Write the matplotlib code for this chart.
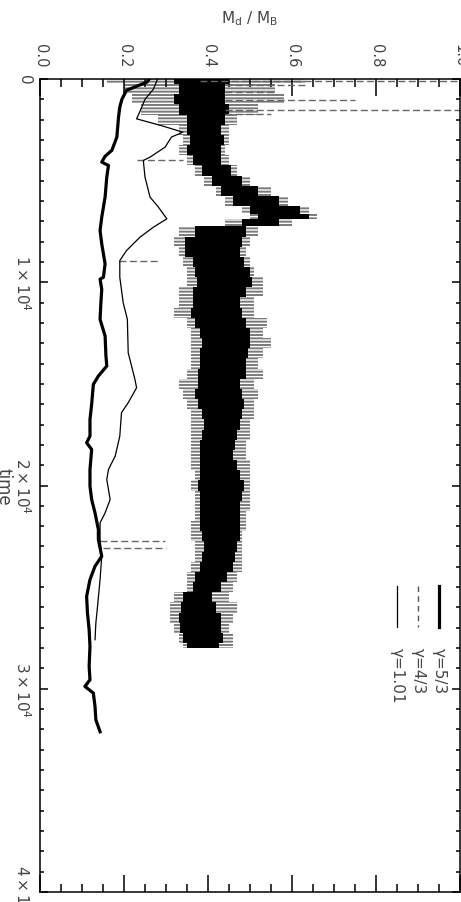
import matplotlib
matplotlib.use("Agg")
import matplotlib.pyplot as plt
from matplotlib.ticker import MultipleLocator, FixedLocator, FixedFormatter

# gamma = 5/3 (thick solid)
t_53 = [0, 150, 557, 1000, 1379, 1872, 2857, 3514, 3800, 4089, 4253, 4828, 5813, 6798, 7455,
        8111, 9097, 9754, 9852, 10345, 11000, 11823, 12644, 13629, 14122, 14614, 15025, 16000,
        16749, 17570, 17898, 18227, 19212, 20033, 20690, 21346, 22167, 22660, 23481, 23974,
        24631, 25452, 26273, 27094, 27915, 28900, 29557, 29885, 30213, 30870, 31527, 32118]
m_53 = [0.26, 0.255, 0.206, 0.195, 0.19, 0.187, 0.183, 0.171, 0.155, 0.147, 0.163, 0.159, 0.155,
        0.147, 0.143, 0.147, 0.155, 0.151, 0.143, 0.147, 0.145, 0.143, 0.155, 0.157, 0.159,
        0.139, 0.127, 0.123, 0.119, 0.119, 0.111, 0.123, 0.119, 0.119, 0.123, 0.131, 0.139,
        0.139, 0.147, 0.131, 0.119, 0.111, 0.113, 0.117, 0.119, 0.117, 0.119, 0.107, 0.127,
        0.131, 0.133, 0.143]

# gamma = 1.01 (thin solid)
t_101 = [0, 500, 1000, 1500, 1960, 2300, 2617, 2857, 3350, 3843, 4007, 4828, 5813, 6305, 6880,
         7291, 7783, 8440, 8933, 9754, 11001, 11823, 13465, 14778, 15189, 15928, 16420, 17570,
         18555, 19212, 19704, 20690, 21346, 21839, 22660, 23481, 24631, 25944, 26765, 27586]
m_101 = [0.28, 0.27, 0.25, 0.24, 0.23, 0.29, 0.34, 0.313, 0.298, 0.262, 0.246, 0.25, 0.262,
         0.282, 0.302, 0.27, 0.238, 0.206, 0.19, 0.19, 0.198, 0.208, 0.21, 0.226, 0.23, 0.21,
         0.194, 0.19, 0.179, 0.163, 0.159, 0.167, 0.155, 0.143, 0.143, 0.147, 0.143, 0.137,
         0.133, 0.131]

# gamma = 4/3 (dashed, fast oscillation -> band)
t_43 = [0, 500, 1000, 1500, 2000, 2500, 3000, 3500, 4000, 4500, 5000, 5500, 6000, 6500, 6750,
        7000, 7500, 8000, 8500, 9000, 9500, 10000, 10500, 11000, 11500, 12000, 12500, 13000,
        13500, 14000, 14500, 15000, 15500, 16000, 16500, 17000, 17500, 18000, 18500, 19000,
        19500, 20000, 20500, 21000, 21500, 22000, 22500, 23000, 23500, 24000, 24500, 25000,
        25500, 26000, 26500, 27000, 27500, 28000]
lo_43 = [0.32, 0.33, 0.32, 0.33, 0.35, 0.35, 0.357, 0.35, 0.365, 0.385, 0.41, 0.43, 0.46, 0.50,
         0.52, 0.48, 0.37, 0.345, 0.345, 0.365, 0.37, 0.373, 0.365, 0.365, 0.36, 0.37, 0.38,
         0.385, 0.38, 0.38, 0.375, 0.375, 0.37, 0.375, 0.385, 0.39, 0.385, 0.38, 0.38, 0.38,
         0.38, 0.375, 0.38, 0.38, 0.38, 0.38, 0.385, 0.39, 0.385, 0.38, 0.37, 0.365, 0.34,
         0.335, 0.33, 0.333, 0.34, 0.35]
hi_43 = [0.45, 0.44, 0.44, 0.45, 0.44, 0.43, 0.437, 0.43, 0.43, 0.455, 0.48, 0.52, 0.57, 0.62,
         0.64, 0.57, 0.49, 0.48, 0.475, 0.485, 0.50, 0.505, 0.49, 0.476, 0.48, 0.49, 0.50,
         0.50, 0.495, 0.49, 0.49, 0.475, 0.48, 0.485, 0.48, 0.475, 0.47, 0.465, 0.46, 0.47,
         0.475, 0.485, 0.48, 0.475, 0.475, 0.475, 0.475, 0.47, 0.465, 0.46, 0.445, 0.43, 0.41,
         0.42, 0.43, 0.43, 0.435, 0.425]
outlo_43 = [0.16, 0.20, 0.22, 0.24, 0.28, 0.33, 0.34, 0.33, 0.35, 0.37, 0.39, 0.42, 0.44, 0.48,
            0.50, 0.44, 0.33, 0.32, 0.33, 0.34, 0.35, 0.35, 0.33, 0.33, 0.32, 0.35, 0.36, 0.36,
            0.36, 0.36, 0.35, 0.33, 0.34, 0.35, 0.36, 0.36, 0.36, 0.36, 0.36, 0.36, 0.37, 0.36,
            0.37, 0.37, 0.37, 0.36, 0.36, 0.37, 0.37, 0.36, 0.35, 0.35, 0.32, 0.31, 0.31, 0.32,
            0.33, 0.34]
outhi_43 = [0.63, 0.56, 0.58, 0.52, 0.47, 0.45, 0.45, 0.44, 0.45, 0.47, 0.50, 0.55, 0.59, 0.64,
            0.66, 0.60, 0.52, 0.50, 0.49, 0.50, 0.51, 0.53, 0.53, 0.51, 0.51, 0.54, 0.53, 0.55,
            0.53, 0.52, 0.53, 0.51, 0.52, 0.51, 0.51, 0.50, 0.50, 0.49, 0.49, 0.50, 0.50, 0.50,
            0.50, 0.50, 0.49, 0.49, 0.48, 0.48, 0.48, 0.48, 0.47, 0.46, 0.45, 0.47, 0.46, 0.45,
            0.46, 0.46]

# isolated excursions of the gamma = 4/3 run
spike_t = [80, 310, 650, 1018, 1543, 1700, 3970, 8940, 22709, 23070]
spike_from = [0.38, 0.44, 0.44, 0.44, 0.44, 0.44, 0.23, 0.187, 0.143, 0.15]
spike_to = [1.0, 0.63, 0.56, 0.75, 1.0, 0.55, 0.34, 0.286, 0.298, 0.30]

legend_labels = ["\u03b3=5/3", "\u03b3=4/3", "\u03b3=1.01"]
time_ticks = [0, 10000, 20000, 30000, 40000]
time_labels = ["0", r"$1\times10^{4}$", r"$2\times10^{4}$", r"$3\times10^{4}$", r"$4\times10^{4}$"]

plt.rcParams["hatch.linewidth"] = 1.4

fig = plt.figure(figsize=(4.61, 9.03), dpi=100)
ax = fig.add_axes([40 / 461, 10 / 903, 420 / 461, 813 / 903])

# spiky grey fringe of the dashed run, then its black core
ax.fill_betweenx(t_43, outlo_43, lo_43, step="mid", facecolor="none", edgecolor="#7a7a7a",
                 hatch="-----", lw=0)
ax.fill_betweenx(t_43, hi_43, outhi_43, step="mid", facecolor="none", edgecolor="#7a7a7a",
                 hatch="-----", lw=0)
ax.fill_betweenx(t_43, lo_43, hi_43, step="mid", color="black", lw=0)
ax.hlines(spike_t, spike_from, spike_to, colors="#666666", linestyles=(0, (5, 2.5)), lw=1.0)
ax.plot(m_101, t_101, color="black", lw=0.9)
ax.plot(m_53, t_53, color="black", lw=2.3)

ax.set_xlim(0, 1)
ax.set_ylim(40000, 0)

txt_col = "#444444"
ax.xaxis.tick_top()
ax.xaxis.set_label_position("top")
ax.xaxis.set_major_locator(MultipleLocator(0.2))
ax.xaxis.set_minor_locator(MultipleLocator(0.05))
ax.set_xticklabels(["%.1f" % v for v in ax.get_xticks()], rotation=-90, color=txt_col, fontsize=10.5)
ax.tick_params(axis="x", which="both", direction="in", top=True, bottom=True)
ax.tick_params(axis="x", which="major", length=12, width=1.1, pad=9)
ax.tick_params(axis="x", which="minor", length=5.8, width=1.1)

ax.yaxis.set_major_locator(FixedLocator(time_ticks))
ax.yaxis.set_major_formatter(FixedFormatter(time_labels))
ax.yaxis.set_minor_locator(MultipleLocator(1000))
ax.tick_params(axis="y", which="both", direction="in", left=True, right=True)
ax.tick_params(axis="y", which="major", length=5.8, width=1.1, pad=6)
ax.tick_params(axis="y", which="minor", length=2.9, width=1.1)
for lab in ax.get_yticklabels():
    lab.set_rotation(-90)
    lab.set_va("center")
    lab.set_color(txt_col)
    lab.set_fontsize(11)

for sp in ax.spines.values():
    sp.set_linewidth(1.1)

ax.set_xlabel(r"M$_{\rm d}$ / M$_{\rm B}$", fontsize=11, color=txt_col, labelpad=15)
ax.set_ylabel("time", rotation=-90, fontsize=12, color=txt_col, labelpad=0, va="top")

# legend drawn by hand so it reads in the rotated direction
leg_x = [0.95, 0.90, 0.85]
leg_lw = [2.3, 1.0, 0.9]
leg_ls = ["-", (0, (4, 3)), "-"]
leg_col = ["black", "#555555", "black"]
for i in range(3):
    ax.plot([leg_x[i], leg_x[i]], [0.376, 0.326], transform=ax.transAxes,
            color=leg_col[i], lw=leg_lw[i], linestyle=leg_ls[i])
    ax.text(leg_x[i], 0.301, legend_labels[i], transform=ax.transAxes, rotation=-90,
            ha="center", va="top", fontsize=11, color=txt_col)

fig.savefig("out.png", dpi=100)
